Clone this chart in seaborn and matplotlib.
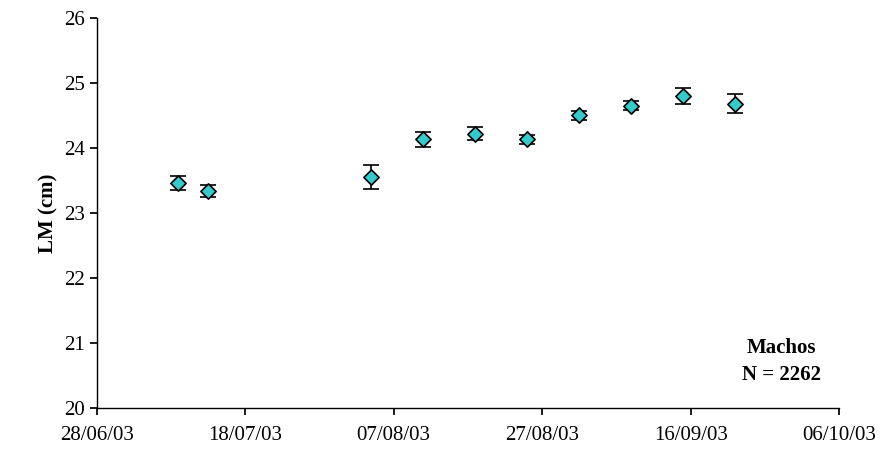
import matplotlib
matplotlib.use("Agg")
import matplotlib.pyplot as plt
import matplotlib.dates as mdates
import seaborn as sns
import pandas as pd

dates = ["2003-07-09","2003-07-13","2003-08-04","2003-08-11","2003-08-18",
         "2003-08-25","2003-09-01","2003-09-08","2003-09-15","2003-09-22"]
lm = [23.46, 23.34, 23.55, 24.13, 24.22, 24.13, 24.50, 24.65, 24.80, 24.68]
err = [0.11, 0.095, 0.18, 0.11, 0.095, 0.075, 0.066, 0.065, 0.12, 0.15]
tick_dates = ["2003-06-28","2003-07-18","2003-08-07","2003-08-27","2003-09-16","2003-10-06"]

df = pd.DataFrame({"date": pd.to_datetime(dates), "lm": lm, "err": err})

sns.set_theme(style="white")
plt.rcParams['font.family'] = ['Liberation Serif', 'DejaVu Serif']
plt.rcParams['text.color'] = 'black'

fig = plt.figure(figsize=(8.88, 4.65), dpi=100)
ax = fig.add_axes([0.109, 0.122, 0.836, 0.84])
ax.errorbar(df["date"], df["lm"], yerr=df["err"], fmt="none", ecolor="black",
            elinewidth=1.2, capsize=6, capthick=1.2, zorder=1)
sns.scatterplot(data=df, x="date", y="lm", marker="D", s=60, color="#33CCCC",
                edgecolor="black", linewidth=1.2, ax=ax, zorder=2)

td = pd.to_datetime(tick_dates)
ax.set_xlim(td[0], td[-1])
ax.set_xticks(td)
ax.xaxis.set_major_formatter(mdates.DateFormatter("%d/%m/%y"))
ax.set_ylim(20, 26)
ax.set_yticks(range(20, 27))
ax.tick_params(axis="both", labelsize=15, length=5, direction="out", colors="black",
               bottom=True, left=True)
ax.tick_params(axis="x", pad=8)
for s in ["top", "right"]:
    ax.spines[s].set_visible(False)
for s in ["left", "bottom"]:
    ax.spines[s].set_color("black")
    ax.spines[s].set_linewidth(1)
ax.set_xlabel("")
ax.set_ylabel("LM (cm)", fontsize=15, fontweight="bold", color="black")
ax.text(0.922, 0.12, "Machos\nN = 2262", transform=ax.transAxes, ha="center", va="center",
        fontsize=15, fontweight="bold", linespacing=1.5, color="black")
fig.savefig("out.png", dpi=100)
